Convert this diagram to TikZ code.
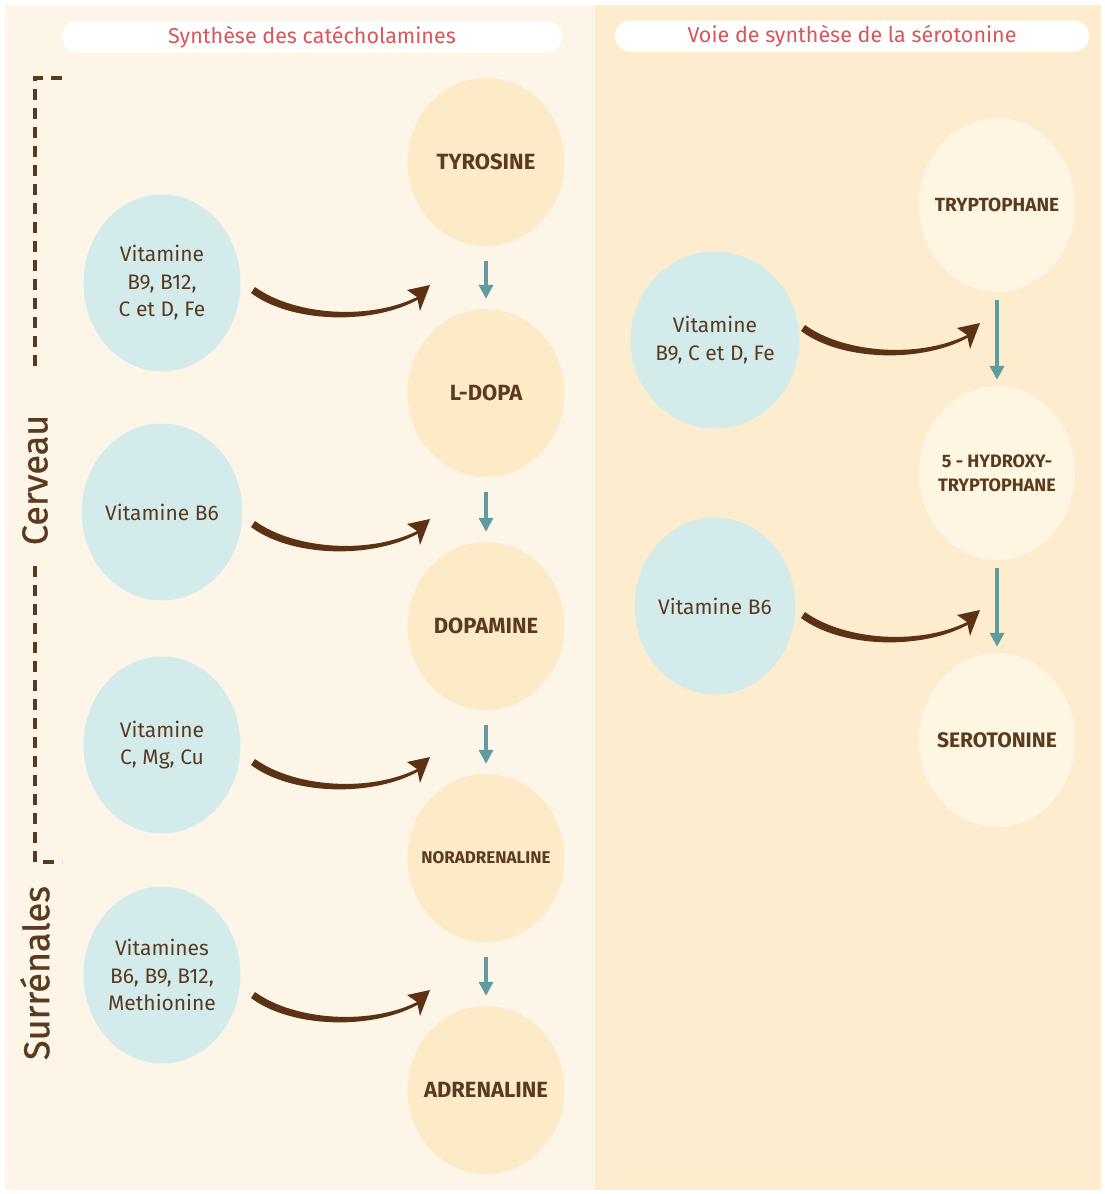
\documentclass[tikz,border=0pt]{standalone}
\usepackage{fontspec}
\setmainfont{Fira Sans}
\newfontfamily\organfont{Fira Sans}[FakeBold=0.8]
\usepackage{xcolor}
\usepackage{tikz}
\usetikzlibrary{positioning, shapes.geometric, arrows.meta}

\definecolor{leftbg}{HTML}{FDF6E8}
\definecolor{rightbg}{HTML}{FDEDCE}
\definecolor{vitblue}{HTML}{D4EBEC}
\definecolor{catyellow}{HTML}{FDEBC8}
\definecolor{serocream}{HTML}{FEF6E3}
\definecolor{inkbrown}{HTML}{5A3B1F}
\definecolor{arrbrown}{HTML}{5B3214}
\definecolor{teal}{HTML}{5F9BA1}
\definecolor{headred}{HTML}{D9565A}

\tikzset{
  cofarrow/.pic={
    \fill[arrbrown] (2,-3) .. controls (42,26) and (120,31) .. (168,5) -- (168,8) .. controls (120,36) and (38,33) .. (-2,3) -- cycle;
    \fill[arrbrown] (177,-5) -- (154,0) -- (164,7) -- (167,21) -- cycle;
  }
}

\begin{document}
\begin{tikzpicture}[
          x=1pt, y=-1pt,
          every node/.style={font=\fontsize{21}{27.5}\selectfont, text=inkbrown},
          header/.style={fill=white, rounded corners=15pt, minimum height=31pt, text=headred, font=\fontsize{21.5}{25}\selectfont},
          vit/.style={ellipse, fill=vitblue, minimum width=157pt, minimum height=177pt, align=center, inner sep=0pt},
          cat/.style={ellipse, fill=catyellow, minimum width=157pt, minimum height=168pt, align=center, inner xsep=-14pt, inner ysep=0pt, font=\fontsize{22}{25}\selectfont\bfseries},
          sero/.style={ellipse, fill=serocream, minimum width=156pt, minimum height=174pt, align=center, inner xsep=-14pt, inner ysep=0pt, font=\fontsize{19}{25}\selectfont\bfseries},
          organ/.style={rotate=90, font=\organfont\fontsize{36}{40}\selectfont},
          stepline/.style={-{Triangle[length=14pt, width=14pt]}, draw=teal, line width=3.5pt, shorten <=15pt, shorten >=10pt},
          bracket/.style={draw=inkbrown, line width=3.4pt, dash pattern=on 11pt off 8pt}
      ]
      \useasboundingbox (0,0) rectangle (1105,1194);

      % Panels
      \fill[white] (0,0) rectangle (1105,1194);
      \fill[leftbg] (5,5) rectangle (595,1190);
      \fill[rightbg] (595,5) rectangle (1101,1190);

      % Headers
      \node[header, minimum width=500pt] (hcat) at (312,37) {Synthèse des catécholamines};
      \node[header, minimum width=474pt] (hsero) at (852,36) {Voie de synthèse de la sérotonine};

      % Catecholamines
      \node[cat] (tyr) at (486,162) {TYROSINE};
      \node[cat] (ldopa) at (486,393) {L-DOPA};
      \node[cat] (dopa) at (486,626) {DOPAMINE};
      \node[cat, font=\fontsize{17}{20}\selectfont\bfseries] (nora) at (486,858) {NORADRENALINE};
      \node[cat] (adre) at (486,1090) {ADRENALINE};

      \node[vit] (v1) at (162,283) {Vitamine\\B9, B12,\\C et D, Fe};
      \node[vit] (v2) at (162,512) {Vitamine B6};
      \node[vit] (v3) at (162,745) {Vitamine\\C, Mg, Cu};
      \node[vit] (v4) at (162,975) {Vitamines\\B6, B9, B12,\\Methionine};

      % Serotonine
      \node[sero] (tryp) at (997,205) {TRYPTOPHANE};
      \node[sero, font=\fontsize{18}{24}\selectfont\bfseries] (htryp) at (997,473) {5 - HYDROXY-\\TRYPTOPHANE};
      \node[sero, font=\fontsize{21}{25}\selectfont\bfseries] (sero) at (997,740) {SEROTONINE};

      \node[vit] (w1) at (715,340) {Vitamine\\B9, C et D, Fe};
      \node[vit] (w2) at (715,606) {Vitamine B6};

      % Organs
      \node[organ] (cerv) at (35,480) {Cerveau};
      \node[organ] (surr) at (35,973) {Surrénales};
      \draw[bracket] (62,78) -- (35,78) -- (35,374);
      \draw[bracket] (35,566) -- (35,862) -- (62,862);

      % Cofactor arrow starts
      \coordinate (a1) at (253,290);
      \coordinate (a2) at (253,524);
      \coordinate (a3) at (253,762);
      \coordinate (a4) at (253,995);
      \coordinate (b1) at (803,328);
      \coordinate (b2) at (803,615);

      % Arrows
      \draw[stepline] (tyr) -- (ldopa);
      \draw[stepline] (ldopa) -- (dopa);
      \draw[stepline] (dopa) -- (nora);
      \draw[stepline] (nora) -- (adre);
      \draw[stepline, shorten <=8pt, shorten >=6pt] (tryp) -- (htryp);
      \draw[stepline, shorten <=8pt, shorten >=6pt] (htryp) -- (sero);

      \pic at (a1) {cofarrow};
      \pic at (a2) {cofarrow};
      \pic at (a3) {cofarrow};
      \pic at (a4) {cofarrow};
      \pic at (b1) {cofarrow};
      \pic at (b2) {cofarrow};

      \end{tikzpicture}
\end{document}
